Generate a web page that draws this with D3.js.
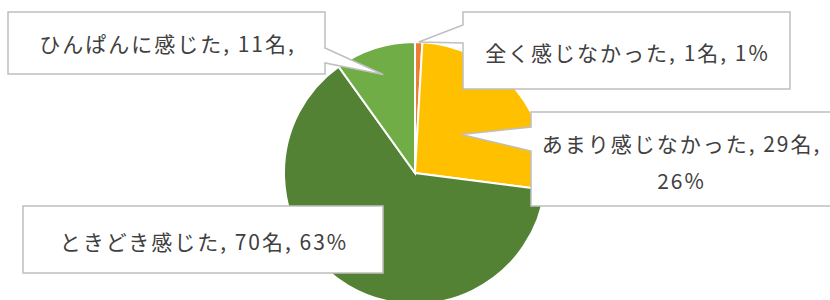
<!DOCTYPE html>
<html>
<head>
<meta charset="utf-8">
<script src="https://cdn.jsdelivr.net/npm/d3@7"></script>
<style>
  html, body { margin: 0; padding: 0; background: #fff; }
  svg { display: block; }
  text { font-family: "Noto Sans CJK JP", "Noto Sans", sans-serif; fill: #404040; }
</style>
</head>
<body>
<div id="chart"></div>
<script>
// data
const categories = ['全く感じなかった', 'あまり感じなかった', 'ときどき感じた', 'ひんぱんに感じた'];
const counts = [1, 29, 70, 11];
const colors = ['#ED7D31', '#FFC000', '#548235', '#70AD47'];
// label lines as shown in the callouts (the last one is clipped in the original)
const labelLines = [
  ['全く感じなかった, 1名, 1%'],
  ['あまり感じなかった, 29名,', '26%'],
  ['ときどき感じた, 70名, 63%'],
  ['ひんぱんに感じた, 11名,']
];

const width = 830, height = 300;
const cx = 415, cy = 173, r = 131;

// callout boxes (layout only)
const boxes = [
  { x0: 463, y0: 12, x1: 790, y1: 89, side: 'left', a: 25, b: 43, k: 1.0, ty: [52] },
  { x0: 531, y0: 112, x1: 836, y1: 206, side: 'left', a: 127, b: 151, k: 0.46, ty: [143, 180] },
  { x0: 23, y0: 206, x1: 383, y1: 273, side: null, ty: [241] },
  { x0: 8, y0: 12, x1: 325, y1: 74, side: 'right', a: 48, b: 63, k: 0.79, ty: [43] }
];

const svg = d3.select('#chart').append('svg')
  .attr('width', width)
  .attr('height', height);

const pie = d3.pie().sort(null).value(d => d);
const arcs = pie(counts);
const arc = d3.arc().innerRadius(0).outerRadius(r);

const g = svg.append('g').attr('transform', `translate(${cx},${cy})`);
g.selectAll('path')
  .data(arcs)
  .enter()
  .append('path')
  .attr('d', arc)
  .attr('fill', (d, i) => colors[i])
  .attr('stroke', '#fff')
  .attr('stroke-width', 2);

function calloutPath(b, tip) {
  const p = d3.path();
  if (b.side === 'left') {
    p.moveTo(b.x0, b.y0);
    p.lineTo(b.x1, b.y0);
    p.lineTo(b.x1, b.y1);
    p.lineTo(b.x0, b.y1);
    p.lineTo(b.x0, b.b);
    p.lineTo(tip[0], tip[1]);
    p.lineTo(b.x0, b.a);
  } else if (b.side === 'right') {
    p.moveTo(b.x0, b.y0);
    p.lineTo(b.x1, b.y0);
    p.lineTo(b.x1, b.a);
    p.lineTo(tip[0], tip[1]);
    p.lineTo(b.x1, b.b);
    p.lineTo(b.x1, b.y1);
    p.lineTo(b.x0, b.y1);
  } else {
    p.rect(b.x0, b.y0, b.x1 - b.x0, b.y1 - b.y0);
  }
  p.closePath();
  return p.toString();
}

arcs.forEach((d, i) => {
  const b = boxes[i];
  const mid = (d.startAngle + d.endAngle) / 2;
  const tip = b.side ? [cx + Math.sin(mid) * r * b.k, cy - Math.cos(mid) * r * b.k] : null;
  svg.append('path')
    .attr('d', calloutPath(b, tip))
    .attr('fill', '#fff')
    .attr('stroke', '#BFBFBF')
    .attr('stroke-width', 1.5);

  const tx = (b.x0 + Math.min(b.x1, width)) / 2 + 1;
  labelLines[i].forEach((line, j) => {
    svg.append('text')
      .attr('x', tx)
      .attr('y', b.ty[j])
      .attr('text-anchor', 'middle')
      .attr('dominant-baseline', 'central')
      .style('font-size', '21px')
      .style('letter-spacing', '2px')
      .text(line);
  });
});
</script>
</body>
</html>
